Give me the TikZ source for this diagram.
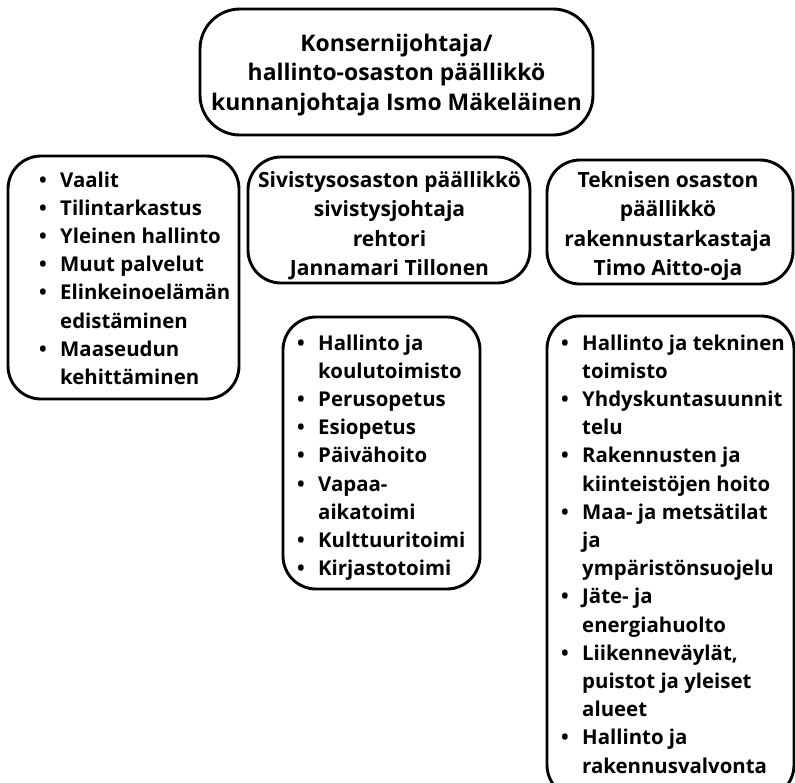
\documentclass[tikz,border=0pt]{standalone}
\usepackage{fontspec}
\setmainfont{Open Sans}
\newcommand\topfnt{\fontsize{22.9}{29.6}\selectfont\bfseries}
\newcommand\midfnt{\fontsize{21}{29.6}\selectfont\bfseries}
\newcommand\lstfnt{\fontsize{20.4}{28.2}\selectfont\bfseries}
\newcommand\bul{\makebox[21pt][l]{•}}
\tikzset{
  box/.style={draw, line width=2.9pt, rounded corners=33pt, inner sep=0pt},
  txt/.style={inner sep=0pt, font=\lstfnt},
}
\begin{document}
\begin{tikzpicture}[x=1pt,y=-1pt]
\useasboundingbox (0,0) rectangle (795,782);
\clip (0,0) rectangle (795,782);
% boxes
\node[box, rounded corners=40pt, minimum width=393pt, minimum height=126pt] (top) at (396.5,72) {};
\node[box, minimum width=231pt, minimum height=243pt] (adm) at (123.5,277.5) {};
\node[box, minimum width=282pt, minimum height=126pt] (siv) at (389,220) {};
\node[box, minimum width=246pt, minimum height=124pt] (tek) at (670,222) {};
\node[box, minimum width=197pt, minimum height=272pt] (sivl) at (381.5,453) {};
\node[box, minimum width=247pt, minimum height=482pt] (tekl) at (670.5,557) {};
% texts
\node[txt, font=\topfnt, anchor=base] (toptext) at (396.5,51) {\begin{tabular}[t]{@{}c@{}}Konsernijohtaja/\\hallinto-osaston päällikkö\\kunnanjohtaja Ismo Mäkeläinen\end{tabular}};
\node[txt, anchor=base west] (admtext) at (39,187) {\begin{tabular}[t]{@{}l@{}l@{}}
\bul & Vaalit\\
\bul & Tilintarkastus\\
\bul & Yleinen hallinto\\
\bul & Muut palvelut\\
\bul & Elinkeinoelämän\\
 & edistäminen\\
\bul & Maaseudun\\
 & kehittäminen
\end{tabular}};
\node[txt, font=\midfnt, anchor=base] (sivtext) at (389.5,187) {\begin{tabular}[t]{@{}c@{}}Sivistysosaston päällikkö\\sivistysjohtaja\\rehtori\\Jannamari Tillonen\end{tabular}};
\node[txt, font=\midfnt, anchor=base] (tektext) at (668,187) {\begin{tabular}[t]{@{}c@{}}Teknisen osaston\\päällikkö\\rakennustarkastaja\\Timo Aitto-oja\end{tabular}};
\node[txt, anchor=base west] (sivltext) at (297,350) {\begin{tabular}[t]{@{}l@{}l@{}}
\bul & Hallinto ja\\
 & koulutoimisto\\
\bul & Perusopetus\\
\bul & Esiopetus\\
\bul & Päivähoito\\
\bul & Vapaa-\\
 & aikatoimi\\
\bul & Kulttuuritoimi\\
\bul & Kirjastotoimi
\end{tabular}};
\node[txt, anchor=base west] (tekltext) at (561,350) {\begin{tabular}[t]{@{}l@{}l@{}}
\bul & Hallinto ja tekninen\\
 & toimisto\\
\bul & Yhdyskuntasuunnit\\
 & telu\\
\bul & Rakennusten ja\\
 & kiinteistöjen hoito\\
\bul & Maa- ja metsätilat\\
 & ja\\
 & ympäristönsuojelu\\
\bul & Jäte- ja\\
 & energiahuolto\\
\bul & Liikenneväylät,\\
 & puistot ja yleiset\\
 & alueet\\
\bul & Hallinto ja\\
 & rakennusvalvonta
\end{tabular}};
\end{tikzpicture}
\end{document}
